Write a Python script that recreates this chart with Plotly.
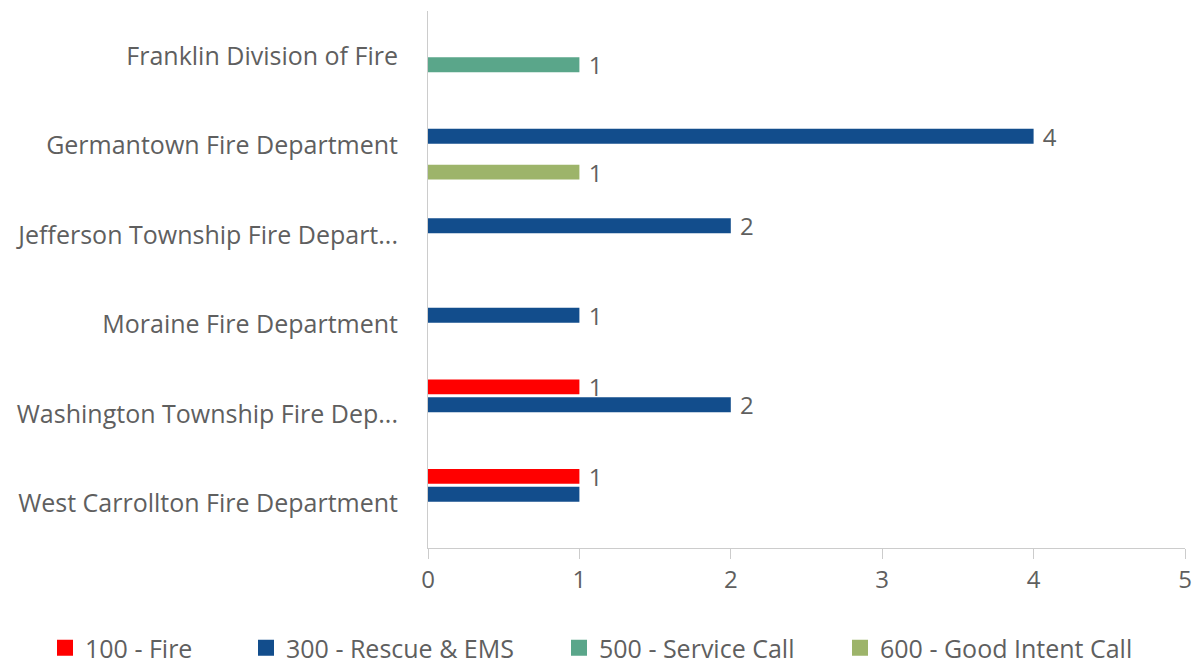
import plotly.graph_objects as go

departments = [
    "Franklin Division of Fire",
    "Germantown Fire Department",
    "Jefferson Township Fire Depart...",
    "Moraine Fire Department",
    "Washington Township Fire Dep...",
    "West Carrollton Fire Department",
]
series_names = ["100 - Fire", "300 - Rescue & EMS", "500 - Service Call", "600 - Good Intent Call"]
fire = [None, None, None, None, 1, 1]
rescue = [None, 4, 2, 1, 2, 1]
service = [1, None, None, None, None, None]
good_intent = [None, 1, None, None, None, None]
# data labels hidden by overlap in the original
hidden_labels = {"300 - Rescue & EMS": ["West Carrollton Fire Department"]}
colors = ["#ff0000", "#124d8c", "#5aa68a", "#9db46a"]
x_ticks = [0, 1, 2, 3, 4, 5]

W, H = 1192, 663
# legend entry text start (px from left)
legend_text_x = [86, 287, 600, 881]
legend_y_px = 648

font_family = "Open Sans, Lato, sans-serif"
text_color = "#5f5f5f"
FS = 25

fig = go.Figure()
legend_layouts = {}
for i, (name, vals, col) in enumerate(zip(series_names, [fire, rescue, service, good_intent], colors)):
    hid = hidden_labels.get(name, [])
    texts = ["" if (v is None or d in hid) else " " + str(v) for d, v in zip(departments, vals)]
    fig.add_trace(go.Bar(
        y=departments, x=vals, orientation="h", name=name,
        marker=dict(color=col, line=dict(width=0)),
        text=texts, textposition="outside", cliponaxis=False, constraintext="none",
        textfont=dict(family=font_family, size=FS - 1, color=text_color),
        showlegend=False,
    ))
    lg = "legend" if i == 0 else f"legend{i + 1}"
    fig.add_trace(go.Scatter(
        x=[None], y=[None], mode="markers", name=name,
        marker=dict(symbol="square", size=20, color=col),
        showlegend=True, legend=lg,
    ))
    legend_layouts[lg] = dict(
        orientation="h", xref="container", yref="container",
        x=(legend_text_x[i] - 41) / W, xanchor="left",
        y=(H - legend_y_px) / H, yanchor="middle",
        font=dict(family=font_family, size=FS, color=text_color),
        itemsizing="trace", bgcolor="rgba(0,0,0,0)", borderwidth=0,
    )

fig.update_layout(
    width=W, height=H,
    margin=dict(l=428, r=7, t=11, b=115),
    paper_bgcolor="white", plot_bgcolor="white",
    barmode="group", bargap=0.2, bargroupgap=0.17,
    font=dict(family=font_family, size=FS, color=text_color),
    showlegend=True,
    xaxis=dict(range=[0, 5], tickvals=x_ticks, showgrid=False, zeroline=False,
               showline=True, linecolor="#cccccc", linewidth=1,
               ticks="outside", ticklen=10, tickcolor="#cccccc", automargin=False,
               tickfont=dict(size=FS - 1, color=text_color)),
    yaxis=dict(categoryorder="array", categoryarray=departments, autorange="reversed",
               showgrid=False, zeroline=False, showline=True, linecolor="#cccccc",
               linewidth=1, ticks="", ticklabelstandoff=24, automargin=False,
               tickfont=dict(size=FS, color=text_color)),
    **legend_layouts,
)

fig.write_html(
    "out.html",
    config={"displayModeBar": False},
    post_script="document.body.style.margin='0';document.documentElement.style.overflow='hidden';",
)
